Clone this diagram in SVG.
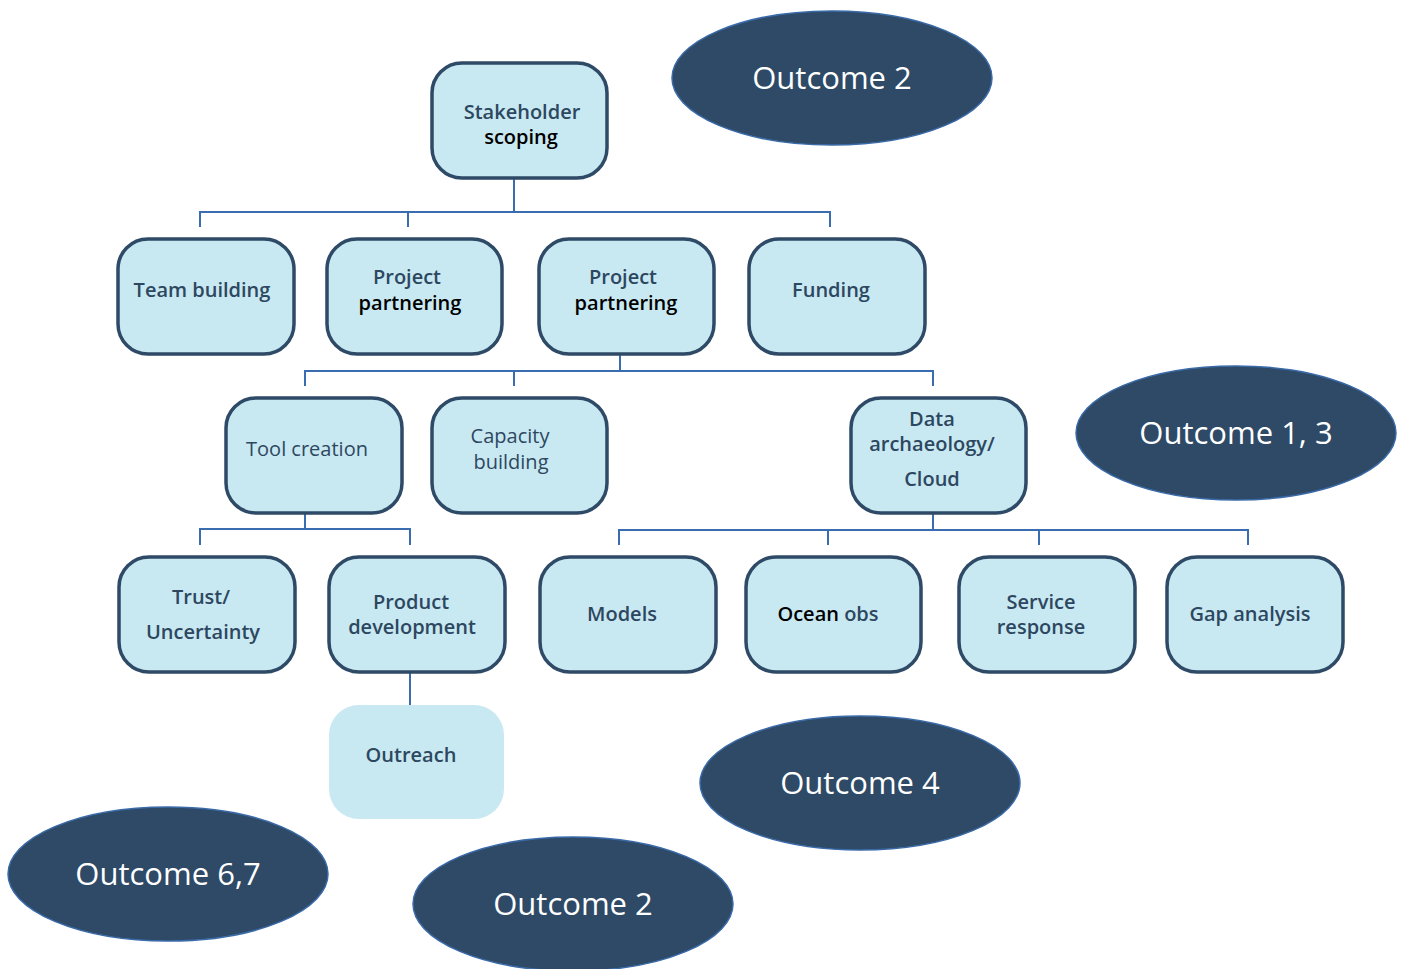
<svg xmlns="http://www.w3.org/2000/svg" width="1405" height="969" viewBox="0 0 1405 969">
<style>
.box{fill:#c9e9f2;stroke:#2e4a66;stroke-width:3.5}
.soft{fill:#c9e9f2;stroke:none}
.oval{fill:#2e4a66;stroke:#3a6aa8;stroke-width:1.5}
.t{font-family:"Open Sans","Noto Sans",sans-serif;font-size:20px;font-weight:600;fill:#2d4760;text-anchor:middle}
.r{font-weight:400}
.k{fill:#000}
.o{font-family:"Open Sans","Noto Sans",sans-serif;font-size:31px;fill:#ffffff;text-anchor:middle}
.c{fill:none;stroke:#3a6db0;stroke-width:2}
</style>
<rect width="1405" height="969" fill="#ffffff"/>
<g id="connectors">
<path class="c" d="M514 178V212M200 227V212H830V227M408 212V227"/>
<path class="c" d="M620 354V371M305 386V371H933V386M514 371V386"/>
<path class="c" d="M305 513V529M200 545V529H410V545"/>
<path class="c" d="M933 513V530M619 545V530H1248V545M828 530V545M1039 530V545"/>
<path class="c" d="M410 672V705"/>
</g>
<g id="stakeholder"><rect class="box" x="432" y="63" width="175" height="115" rx="30"/><text class="t" x="522" y="119">Stakeholder</text><text class="t k" x="521" y="144">scoping</text></g>
<g id="team"><rect class="box" x="118" y="239" width="176" height="115" rx="30"/><text class="t" x="202" y="297">Team building</text></g>
<g id="partnering1"><rect class="box" x="327" y="239" width="175" height="115" rx="30"/><text class="t" x="407" y="284">Project</text><text class="t k" x="410" y="310">partnering</text></g>
<g id="partnering2"><rect class="box" x="539" y="239" width="175" height="115" rx="30"/><text class="t" x="623" y="284">Project</text><text class="t k" x="626" y="310">partnering</text></g>
<g id="funding"><rect class="box" x="749" y="239" width="176" height="115" rx="30"/><text class="t" x="831" y="297">Funding</text></g>
<g id="tool"><rect class="box" x="226" y="398" width="176" height="115" rx="30"/><text class="t r" x="307" y="456">Tool creation</text></g>
<g id="capacity"><rect class="box" x="432" y="398" width="175" height="115" rx="30"/><text class="t r" x="510" y="443" font-size="19">Capacity</text><text class="t r" x="511" y="469" font-size="19">building</text></g>
<g id="data"><rect class="box" x="851" y="398" width="175" height="115" rx="30"/><text class="t" x="932" y="426">Data</text><text class="t" x="932" y="451">archaeology/</text><text class="t" x="932" y="486">Cloud</text></g>
<g id="trust"><rect class="box" x="119" y="557" width="176" height="115" rx="30"/><text class="t" x="201" y="604">Trust/</text><text class="t" x="203" y="639">Uncertainty</text></g>
<g id="product"><rect class="box" x="329" y="557" width="176" height="115" rx="30"/><text class="t" x="411" y="609">Product</text><text class="t" x="412" y="634">development</text></g>
<g id="models"><rect class="box" x="540" y="557" width="176" height="115" rx="30"/><text class="t" x="622" y="621">Models</text></g>
<g id="ocean"><rect class="box" x="746" y="557" width="175" height="115" rx="30"/><text class="t" x="828" y="621"><tspan class="k">Ocean</tspan> obs</text></g>
<g id="service"><rect class="box" x="959" y="557" width="176" height="115" rx="30"/><text class="t" x="1041" y="609">Service</text><text class="t" x="1041" y="634">response</text></g>
<g id="gap"><rect class="box" x="1167" y="557" width="176" height="115" rx="30"/><text class="t" x="1250" y="621">Gap analysis</text></g>
<g id="outreach"><rect class="soft" x="329" y="705" width="175" height="114" rx="30"/><text class="t" x="411" y="762">Outreach</text></g>
<g id="outcome2top"><ellipse class="oval" cx="832" cy="78" rx="160" ry="67"/><text class="o" x="832" y="89">Outcome 2</text></g>
<g id="outcome13"><ellipse class="oval" cx="1236" cy="433" rx="160" ry="67"/><text class="o" x="1236" y="444">Outcome 1, 3</text></g>
<g id="outcome4"><ellipse class="oval" cx="860" cy="783" rx="160" ry="67"/><text class="o" x="860" y="794">Outcome 4</text></g>
<g id="outcome67"><ellipse class="oval" cx="168" cy="874" rx="160" ry="67"/><text class="o" x="168" y="885">Outcome 6,7</text></g>
<g id="outcome2bottom"><ellipse class="oval" cx="573" cy="904" rx="160" ry="67"/><text class="o" x="573" y="915">Outcome 2</text></g>
</svg>
